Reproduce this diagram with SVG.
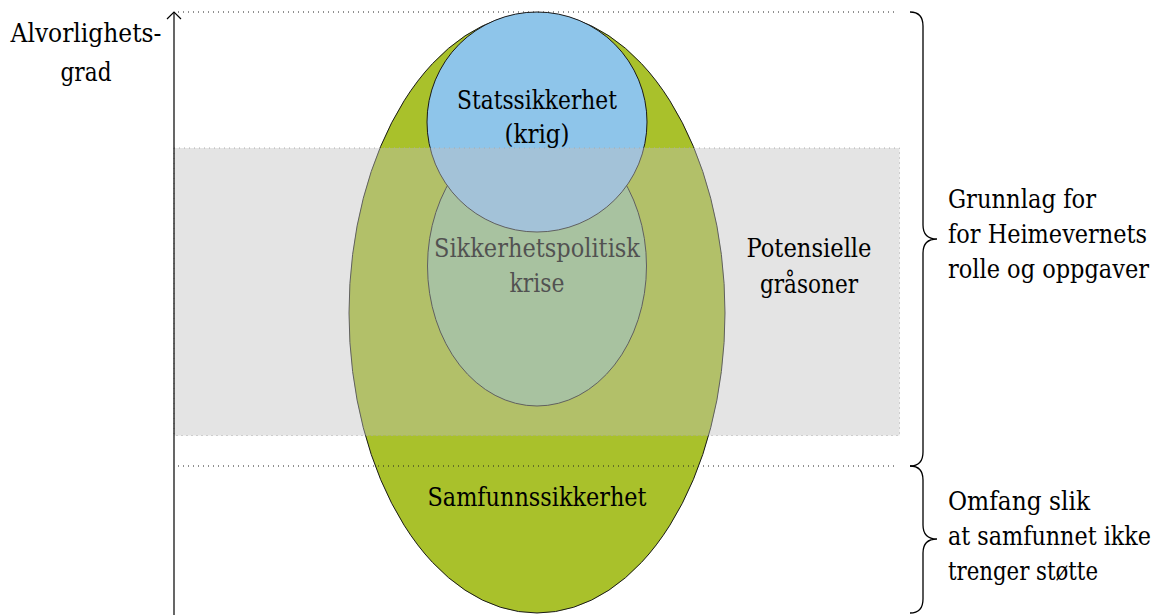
<svg xmlns="http://www.w3.org/2000/svg" width="1162" height="615" viewBox="0 0 1162 615">
  <style>
    text { font-family: "DejaVu Serif Condensed", "DejaVu Serif", serif; font-stretch: condensed; font-size: 26px; fill: #000; }
    .mid { text-anchor: middle; }
    .shape { stroke: #1a1a1a; stroke-width: 1; }
    .dots { stroke: #222; stroke-width: 1; stroke-dasharray: 1 4; fill: none; }
    .brace { stroke: #000; stroke-width: 1.3; fill: none; }
    .head { stroke: #000; stroke-width: 1.2; fill: none; }
  </style>

  <!-- societal security: the outer ellipse -->
  <g id="samfunnssikkerhet">
    <ellipse class="shape" cx="537" cy="313" rx="188" ry="300" fill="#a9c12b"/>
  </g>

  <!-- security-policy crisis -->
  <g id="sikkerhetspolitisk-krise">
    <ellipse class="shape" cx="537" cy="266" rx="109.5" ry="140" fill="#98c489"/>
    <text class="mid" x="537" y="257" textLength="206" lengthAdjust="spacingAndGlyphs">Sikkerhetspolitisk</text>
    <text class="mid" x="537" y="292" textLength="55" lengthAdjust="spacingAndGlyphs">krise</text>
  </g>

  <!-- state security (war) -->
  <g id="statssikkerhet">
    <circle class="shape" cx="537" cy="122" r="110" fill="#8ec5ea"/>
  </g>

  <!-- grey zones band laid over the ellipses -->
  <g id="graasoner">
    <rect x="174" y="148" width="725.5" height="287.5" fill="#c0c0c0" fill-opacity="0.425"/>
    <rect x="174" y="148" width="725.5" height="287.5" fill="none" stroke="#aaa" stroke-width="1" stroke-dasharray="1 4"/>
    <text class="mid" x="809" y="257" textLength="125" lengthAdjust="spacingAndGlyphs">Potensielle</text>
    <text class="mid" x="809" y="293" textLength="98" lengthAdjust="spacingAndGlyphs">gråsoner</text>
  </g>

  <!-- labels on top of the shapes -->
  <g id="statssikkerhet-label">
    <text class="mid" x="537" y="109" textLength="160" lengthAdjust="spacingAndGlyphs">Statssikkerhet</text>
    <text class="mid" x="537" y="143" textLength="65" lengthAdjust="spacingAndGlyphs">(krig)</text>
  </g>
  <g id="samfunnssikkerhet-label">
    <text class="mid" x="537" y="506" textLength="219" lengthAdjust="spacingAndGlyphs">Samfunnssikkerhet</text>
  </g>

  <!-- severity axis and level lines -->
  <g id="axis">
    <line x1="174" y1="615" x2="174" y2="12.5" stroke="#000" stroke-width="1.2"/>
    <path class="head" d="M167,19 L174,12 L181,19"/>
    <line class="dots" x1="178" y1="12" x2="898" y2="12"/>
    <line class="dots" x1="178" y1="466" x2="898" y2="466"/>
    <text class="mid" x="86" y="42" textLength="151" lengthAdjust="spacingAndGlyphs">Alvorlighets-</text>
    <text class="mid" x="86" y="81" textLength="51" lengthAdjust="spacingAndGlyphs">grad</text>
  </g>

  <!-- braces with their descriptions -->
  <g id="connectors">
    <path class="brace" d="M910,12 Q923,12 923,26 L923,225 Q923,239 937,239 Q923,239 923,253 L923,452 Q923,466 910,466"/>
    <path class="brace" d="M910,466 Q923,466 923,480 L923,525 Q923,539 937,539 Q923,539 923,553 L923,599 Q923,613 910,613"/>
  </g>
  <g id="grunnlag">
    <text x="948" y="208" textLength="148" lengthAdjust="spacingAndGlyphs">Grunnlag for</text>
    <text x="948" y="243" textLength="199" lengthAdjust="spacingAndGlyphs">for Heimevernets</text>
    <text x="948" y="278" textLength="201" lengthAdjust="spacingAndGlyphs">rolle og oppgaver</text>
  </g>
  <g id="omfang">
    <text x="948" y="510" textLength="142" lengthAdjust="spacingAndGlyphs">Omfang slik</text>
    <text x="948" y="545" textLength="203" lengthAdjust="spacingAndGlyphs">at samfunnet ikke</text>
    <text x="948" y="580" textLength="150" lengthAdjust="spacingAndGlyphs">trenger støtte</text>
  </g>
</svg>
